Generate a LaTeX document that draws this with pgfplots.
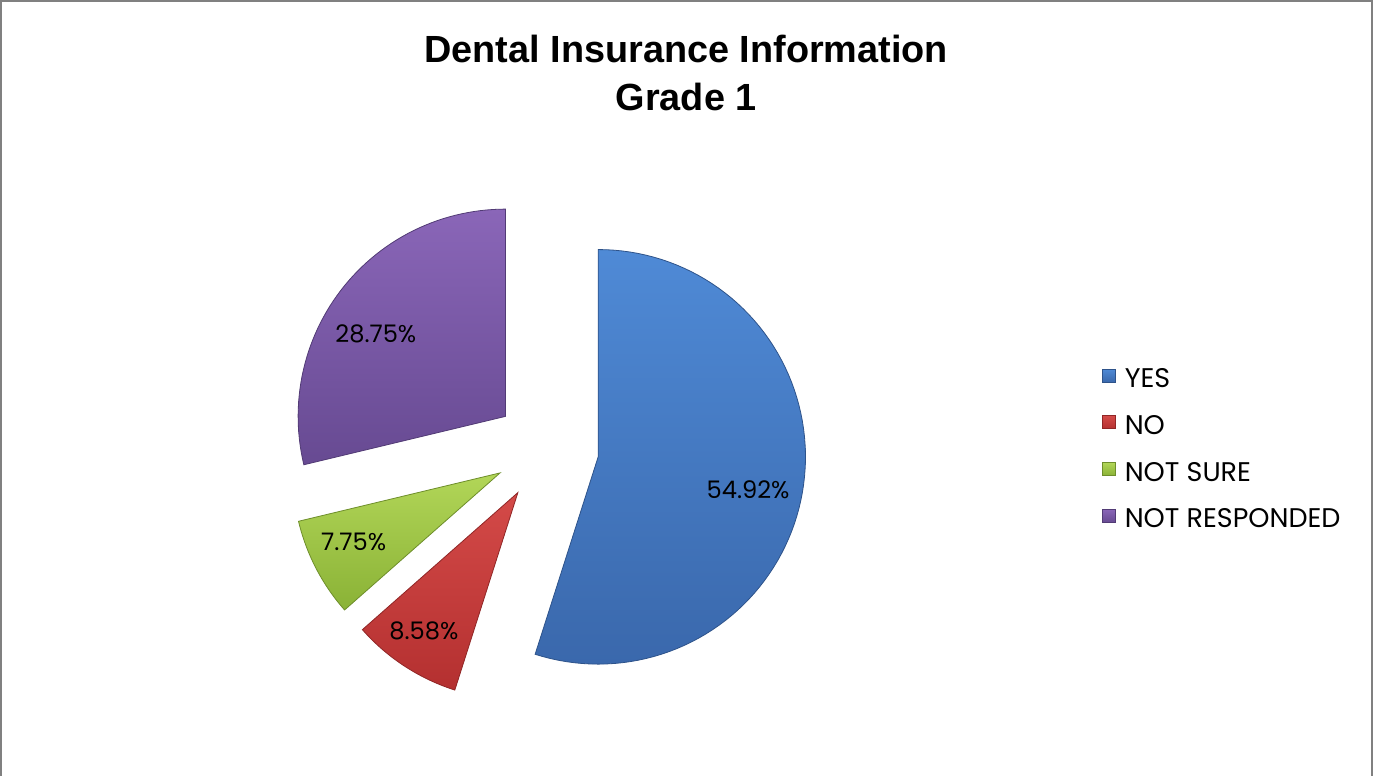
\documentclass[border=0pt]{standalone}
\usepackage{pgfplots}
\pgfplotsset{compat=1.18}
\usepackage{pgfplotstable}
\usepackage{fontspec}
\setmainfont{Liberation Sans}
\newfontfamily\gothic{Poppins}

\definecolor{yesT}{HTML}{4F8AD6}
\definecolor{yesB}{HTML}{3A68AC}
\definecolor{noT}{HTML}{D44A48}
\definecolor{noB}{HTML}{B43030}
\definecolor{nsT}{HTML}{B2D658}
\definecolor{nsB}{HTML}{8AB236}
\definecolor{nrT}{HTML}{8A66B8}
\definecolor{nrB}{HTML}{674A92}

\pgfplotstableread{
cat pct
YES 54.92
NO 8.58
NOTSURE 7.75
NOTRESPONDED 28.75
}\piedata

\begin{document}
\begin{tikzpicture}
\pgfplotstablegetelem{0}{pct}\of\piedata \let\pA\pgfplotsretval
\pgfplotstablegetelem{1}{pct}\of\piedata \let\pB\pgfplotsretval
\pgfplotstablegetelem{2}{pct}\of\piedata \let\pC\pgfplotsretval
\pgfplotstablegetelem{3}{pct}\of\piedata \let\pD\pgfplotsretval
\pgfmathsetmacro\Cx{547.6}
\pgfmathsetmacro\Cy{449}
\pgfmathsetmacro\Rr{206}
\pgfmathsetmacro\Dd{52}
% angles (clockwise from 12 o'clock)
\pgfmathsetmacro\sA{90}
\pgfmathsetmacro\eA{\sA-3.6*\pA}
\pgfmathsetmacro\eB{\eA-3.6*\pB}
\pgfmathsetmacro\eC{\eB-3.6*\pC}
\pgfmathsetmacro\eD{\eC-3.6*\pD}
% apexes of exploded slices
\pgfmathsetmacro\mA{(\sA+\eA)/2}
\pgfmathsetmacro\mB{(\eA+\eB)/2}
\pgfmathsetmacro\mC{(\eB+\eC)/2}
\pgfmathsetmacro\mD{(\eC+\eD)/2}
\pgfmathsetmacro\xA{\Cx+\Dd*cos(\mA)}\pgfmathsetmacro\yA{\Cy-\Dd*sin(\mA)}
\pgfmathsetmacro\xB{\Cx+\Dd*cos(\mB)}\pgfmathsetmacro\yB{\Cy-\Dd*sin(\mB)}
\pgfmathsetmacro\xC{\Cx+\Dd*cos(\mC)}\pgfmathsetmacro\yC{\Cy-\Dd*sin(\mC)}
\pgfmathsetmacro\xD{\Cx+\Dd*cos(\mD)}\pgfmathsetmacro\yD{\Cy-\Dd*sin(\mD)}
\begin{axis}[
  scale only axis, width=686.5pt, height=387pt,
  xmin=0, xmax=1373, ymin=0, ymax=774, y dir=reverse,
  hide axis, clip=true,
  legend style={at={(axis description cs:0.8005,0.5233)}, anchor=north west,
    draw=none, fill=none, inner sep=0pt, row sep=13.7pt,
    font=\gothic\fontsize{13.4}{15}\selectfont,
    nodes={inner sep=0pt, text height=9.4pt, text depth=0pt},
    column sep=4.5pt},
  legend cell align=left,
  legend image code/.code={\fill[#1] (0pt,-1.9pt) rectangle (6.5pt,4.6pt);},
]
\draw[color=black!50, line width=1pt] (axis cs:5.5,774) -- (axis cs:5.5,4) -- (axis cs:1368,4) -- (axis cs:1368,774);

\addplot[top color=yesT, bottom color=yesB, draw=yesB!80!black, line width=0.4pt,
  domain=\eA:\sA, samples=90, variable=\t]
  ({\xA+\Rr*cos(\t)}, {\yA-\Rr*sin(\t)}) -- (axis cs:\xA,\yA) -- cycle;
\addlegendentry{YES}
\addplot[top color=noT, bottom color=noB, draw=noB!80!black, line width=0.4pt,
  domain=\eB:\eA, samples=30, variable=\t]
  ({\xB+\Rr*cos(\t)}, {\yB-\Rr*sin(\t)}) -- (axis cs:\xB,\yB) -- cycle;
\addlegendentry{NO}
\addplot[top color=nsT, bottom color=nsB, draw=nsB!80!black, line width=0.4pt,
  domain=\eC:\eB, samples=30, variable=\t]
  ({\xC+\Rr*cos(\t)}, {\yC-\Rr*sin(\t)}) -- (axis cs:\xC,\yC) -- cycle;
\addlegendentry{NOT SURE}
\addplot[top color=nrT, bottom color=nrB, draw=nrB!80!black, line width=0.4pt,
  domain=\eD:\eC, samples=60, variable=\t]
  ({\xD+\Rr*cos(\t)}, {\yD-\Rr*sin(\t)}) -- (axis cs:\xD,\yD) -- cycle;
\addlegendentry{NOT RESPONDED}

\node[font=\gothic\fontsize{12}{14}\selectfont] at (axis cs:748,490) {54.92\%};
\node[font=\gothic\fontsize{12}{14}\selectfont] at (axis cs:425.7,630) {8.58\%};
\node[font=\gothic\fontsize{12}{14}\selectfont] at (axis cs:356,541.7) {7.75\%};
\node[font=\gothic\fontsize{12}{14}\selectfont] at (axis cs:378,335) {28.75\%};

\node[font=\bfseries\fontsize{18.8}{23.5}\selectfont, align=center] at (axis cs:686.5,75.5) {Dental Insurance Information\\Grade 1};
\end{axis}
\end{tikzpicture}
\end{document}
